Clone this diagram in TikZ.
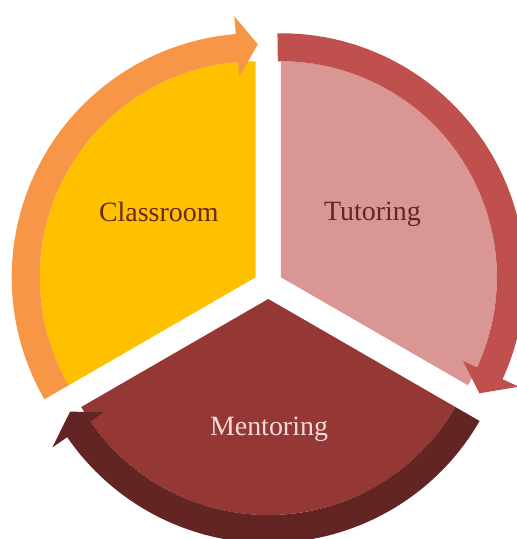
\documentclass[tikz,border=0pt]{standalone}
\usepackage{fontspec}
\setmainfont{Liberation Serif}
\usetikzlibrary{calc}
\definecolor{classfill}{HTML}{FFC000}
\definecolor{tutorfill}{HTML}{D99694}
\definecolor{mentorfill}{HTML}{953735}
\definecolor{classarc}{HTML}{F79646}
\definecolor{tutorarc}{HTML}{C0504D}
\definecolor{mentorarc}{HTML}{632523}
\definecolor{darktext}{HTML}{632523}
\definecolor{classtext}{HTML}{66291A}
\definecolor{lighttext}{HTML}{F2DCDB}
\begin{document}
\begin{tikzpicture}[x=0.02cm,y=0.02cm,
  segtext/.style={font=\fontsize{15.9}{19}\selectfont,anchor=base,inner sep=0pt}]
  \useasboundingbox (0,0) rectangle (517,539);
  \clip (0,0) rectangle (517,539);
  \coordinate (o) at (268.3,254.5);
  \begin{scope}[shift={(o)},shift={(150:14.5)}]
    \fill[classfill] (0,0) -- (90:216) arc[start angle=90,end angle=210,radius=216] -- cycle;
    \fill[classarc] (210:244) arc[start angle=210,end angle=94.7,radius=244] -- (94.7:262) -- (89.5:233)
      -- (94.7:201) -- (94.7:216) arc[start angle=94.7,end angle=210,radius=216] -- cycle;
  \end{scope}
  \begin{scope}[shift={(o)},shift={(30:14.5)}]
    \fill[tutorfill] (0,0) -- (90:216) arc[start angle=90,end angle=-30,radius=216] -- cycle;
    \fill[tutorarc] (90.8:244) arc[start angle=90.8,end angle=-24.7,radius=244] -- (-24.7:262) -- (-30.3:230)
      -- (-24.7:200.5) -- (-24.7:216) arc[start angle=-24.7,end angle=90.8,radius=216] -- cycle;
  \end{scope}
  \begin{scope}[shift={(o)},shift={(270:14.5)}]
    \fill[mentorfill] (0,0) -- (-30:216) arc[start angle=-30,end angle=-150,radius=216] -- cycle;
    \fill[mentorarc] (-30:244) arc[start angle=-30,end angle=-145.5,radius=244] -- (-145.5:262) -- (-150.4:228)
      -- (-145.5:200) -- (-145.5:216) arc[start angle=-145.5,end angle=-30,radius=216] -- cycle;
  \end{scope}
  \node[segtext,text=classtext] (classroom) at (158.8,317.3) {Classroom};
  \node[segtext,text=darktext] (tutoring) at (372.5,318.3) {Tutoring};
  \node[segtext,text=lighttext] (mentoring) at (269,103.3) {Mentoring};
\end{tikzpicture}
\end{document}
